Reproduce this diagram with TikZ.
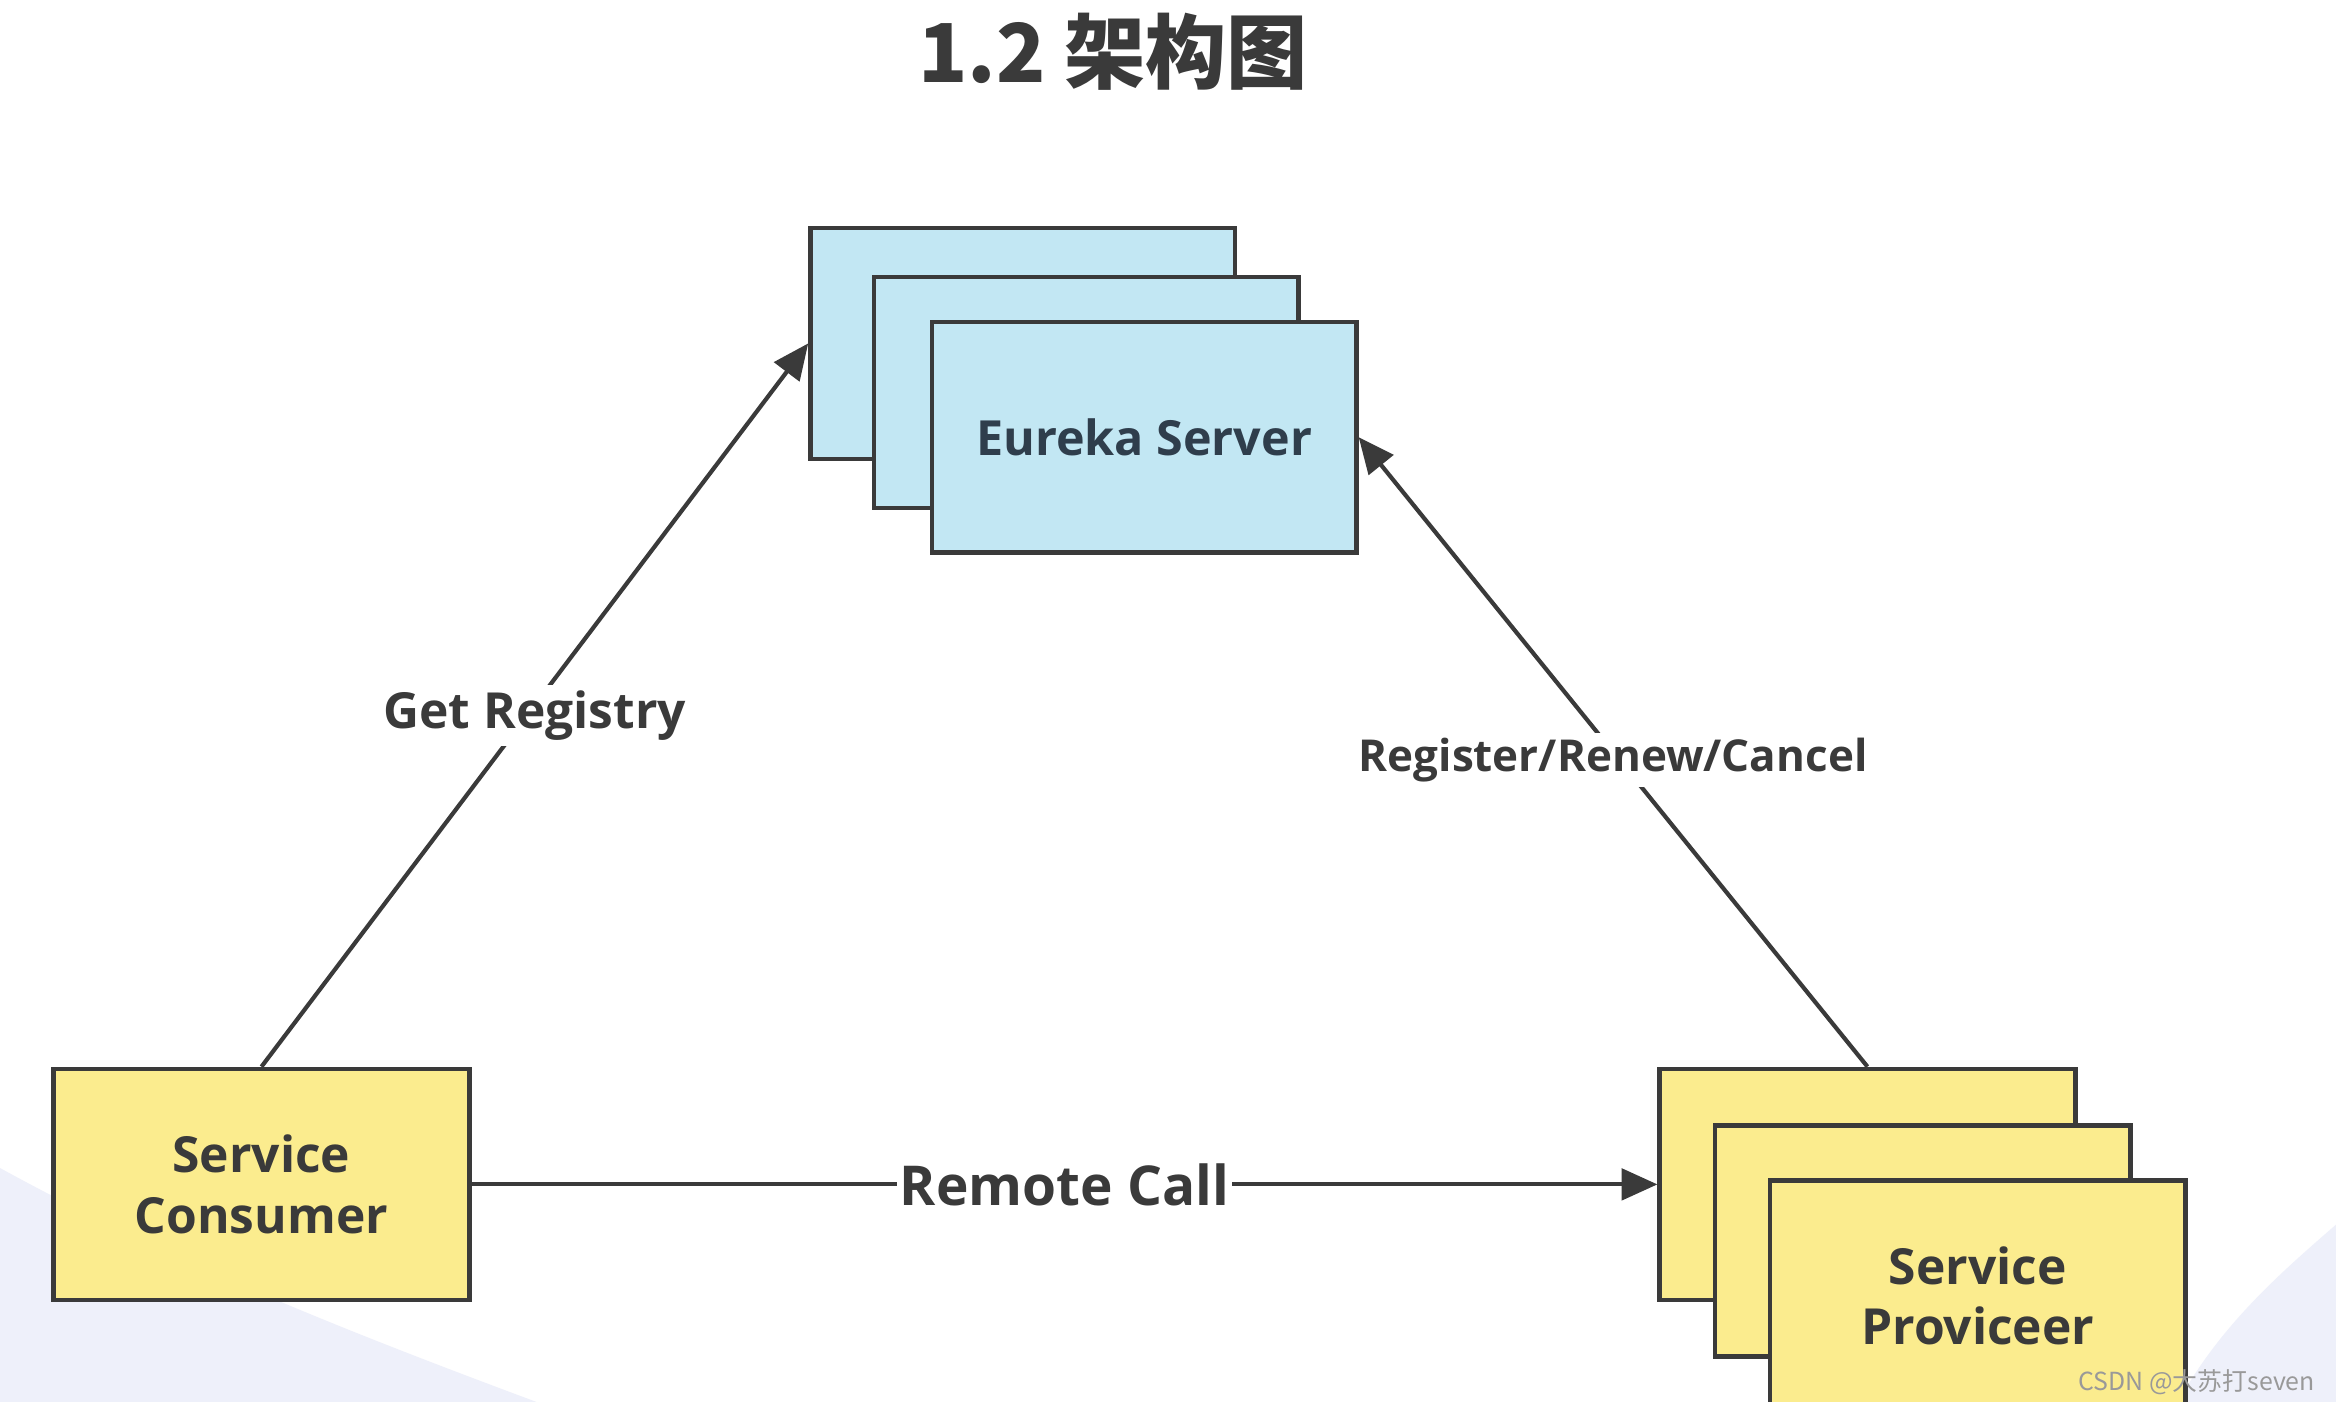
\documentclass[tikz,border=0pt]{standalone}
\usepackage{fontspec}
\setmainfont{Open Sans}
\newfontfamily\cjkfont{Noto Sans CJK SC}
\usepackage{xcolor}
\usepackage{tikz}
\usetikzlibrary{positioning,arrows.meta}

\definecolor{srvblue}{HTML}{C2E7F3}
\definecolor{appyellow}{HTML}{FBEC8E}
\definecolor{inkgray}{HTML}{3A3A3A}
\definecolor{eurekaink}{HTML}{2F3E4C}
\definecolor{bglilac}{HTML}{EEF0FA}

\begin{document}
\begin{tikzpicture}[x=0.2mm, y=-0.2mm,
		box/.style={draw=inkgray, line width=1.7pt, minimum width=57mm, minimum height=31mm, inner sep=0pt, align=center, text=inkgray, font=\bfseries\fontsize{19}{23}\selectfont},
		srv/.style={box, fill=srvblue},
		app/.style={box, fill=appyellow, minimum width=55.8mm},
		link/.style={draw=inkgray, line width=1.6pt, -{Triangle[length=4.8mm, width=4.2mm]}},
		lbl/.style={fill=white, inner sep=2pt, text=inkgray, font=\bfseries\fontsize{19}{23}\selectfont}]
	\useasboundingbox (0,0) rectangle (1568,941);
	\clip (0,0) rectangle (1568,941);
	% slide background
	\fill[white] (0,0) rectangle (1568,941);
	\fill[bglilac] (0,784) .. controls (120,850) and (250,900) .. (360,941) -- (0,941) -- cycle;
	\fill[bglilac] (1568,822) .. controls (1530,855) and (1490,890) .. (1462,941) -- (1568,941) -- cycle;
	% title
	\node[font=\cjkfont\bfseries\fontsize{31}{36}\selectfont, text=inkgray] (title) at (747,35) {1.2 架构图};
	% registry cluster
	\node[srv] (eu1) at (686.5,230.5) {};
	\node[srv] (eu2) at (729,263.5) {};
	\node[srv, text=eurekaink, font=\bfseries\fontsize{18.5}{22}\selectfont] (eu3) at (768,293.5) {Eureka Server};
	% clients
	\node[app] (cons) at (175.5,795) {Service\\Consumer};
	\node[app] (prov1) at (1253.5,795) {};
	\node[app] (prov2) at (1290.5,833) {};
	\node[app] (prov3) at (1327.5,870) {Service\\Proviceer};
	% calls
	\draw[link] (cons.north) -- node[lbl, yshift=-4pt] {Get Registry} (eu1.west);
	\draw[link] (prov1.north) -- node[lbl, yshift=-3pt, font=\bfseries\fontsize{16.8}{20}\selectfont] {Register/Renew/Cancel} (eu3.east);
	\draw[link] (cons.east) -- node[lbl, inner sep=1pt, font=\bfseries\fontsize{21}{26}\selectfont] {Remote Call} (prov1.west);
	\node[anchor=east, font=\cjkfont\fontsize{9.5}{11}\selectfont, text=gray!80] (mark) at (1560,928) {CSDN @大苏打seven};
\end{tikzpicture}
\end{document}
